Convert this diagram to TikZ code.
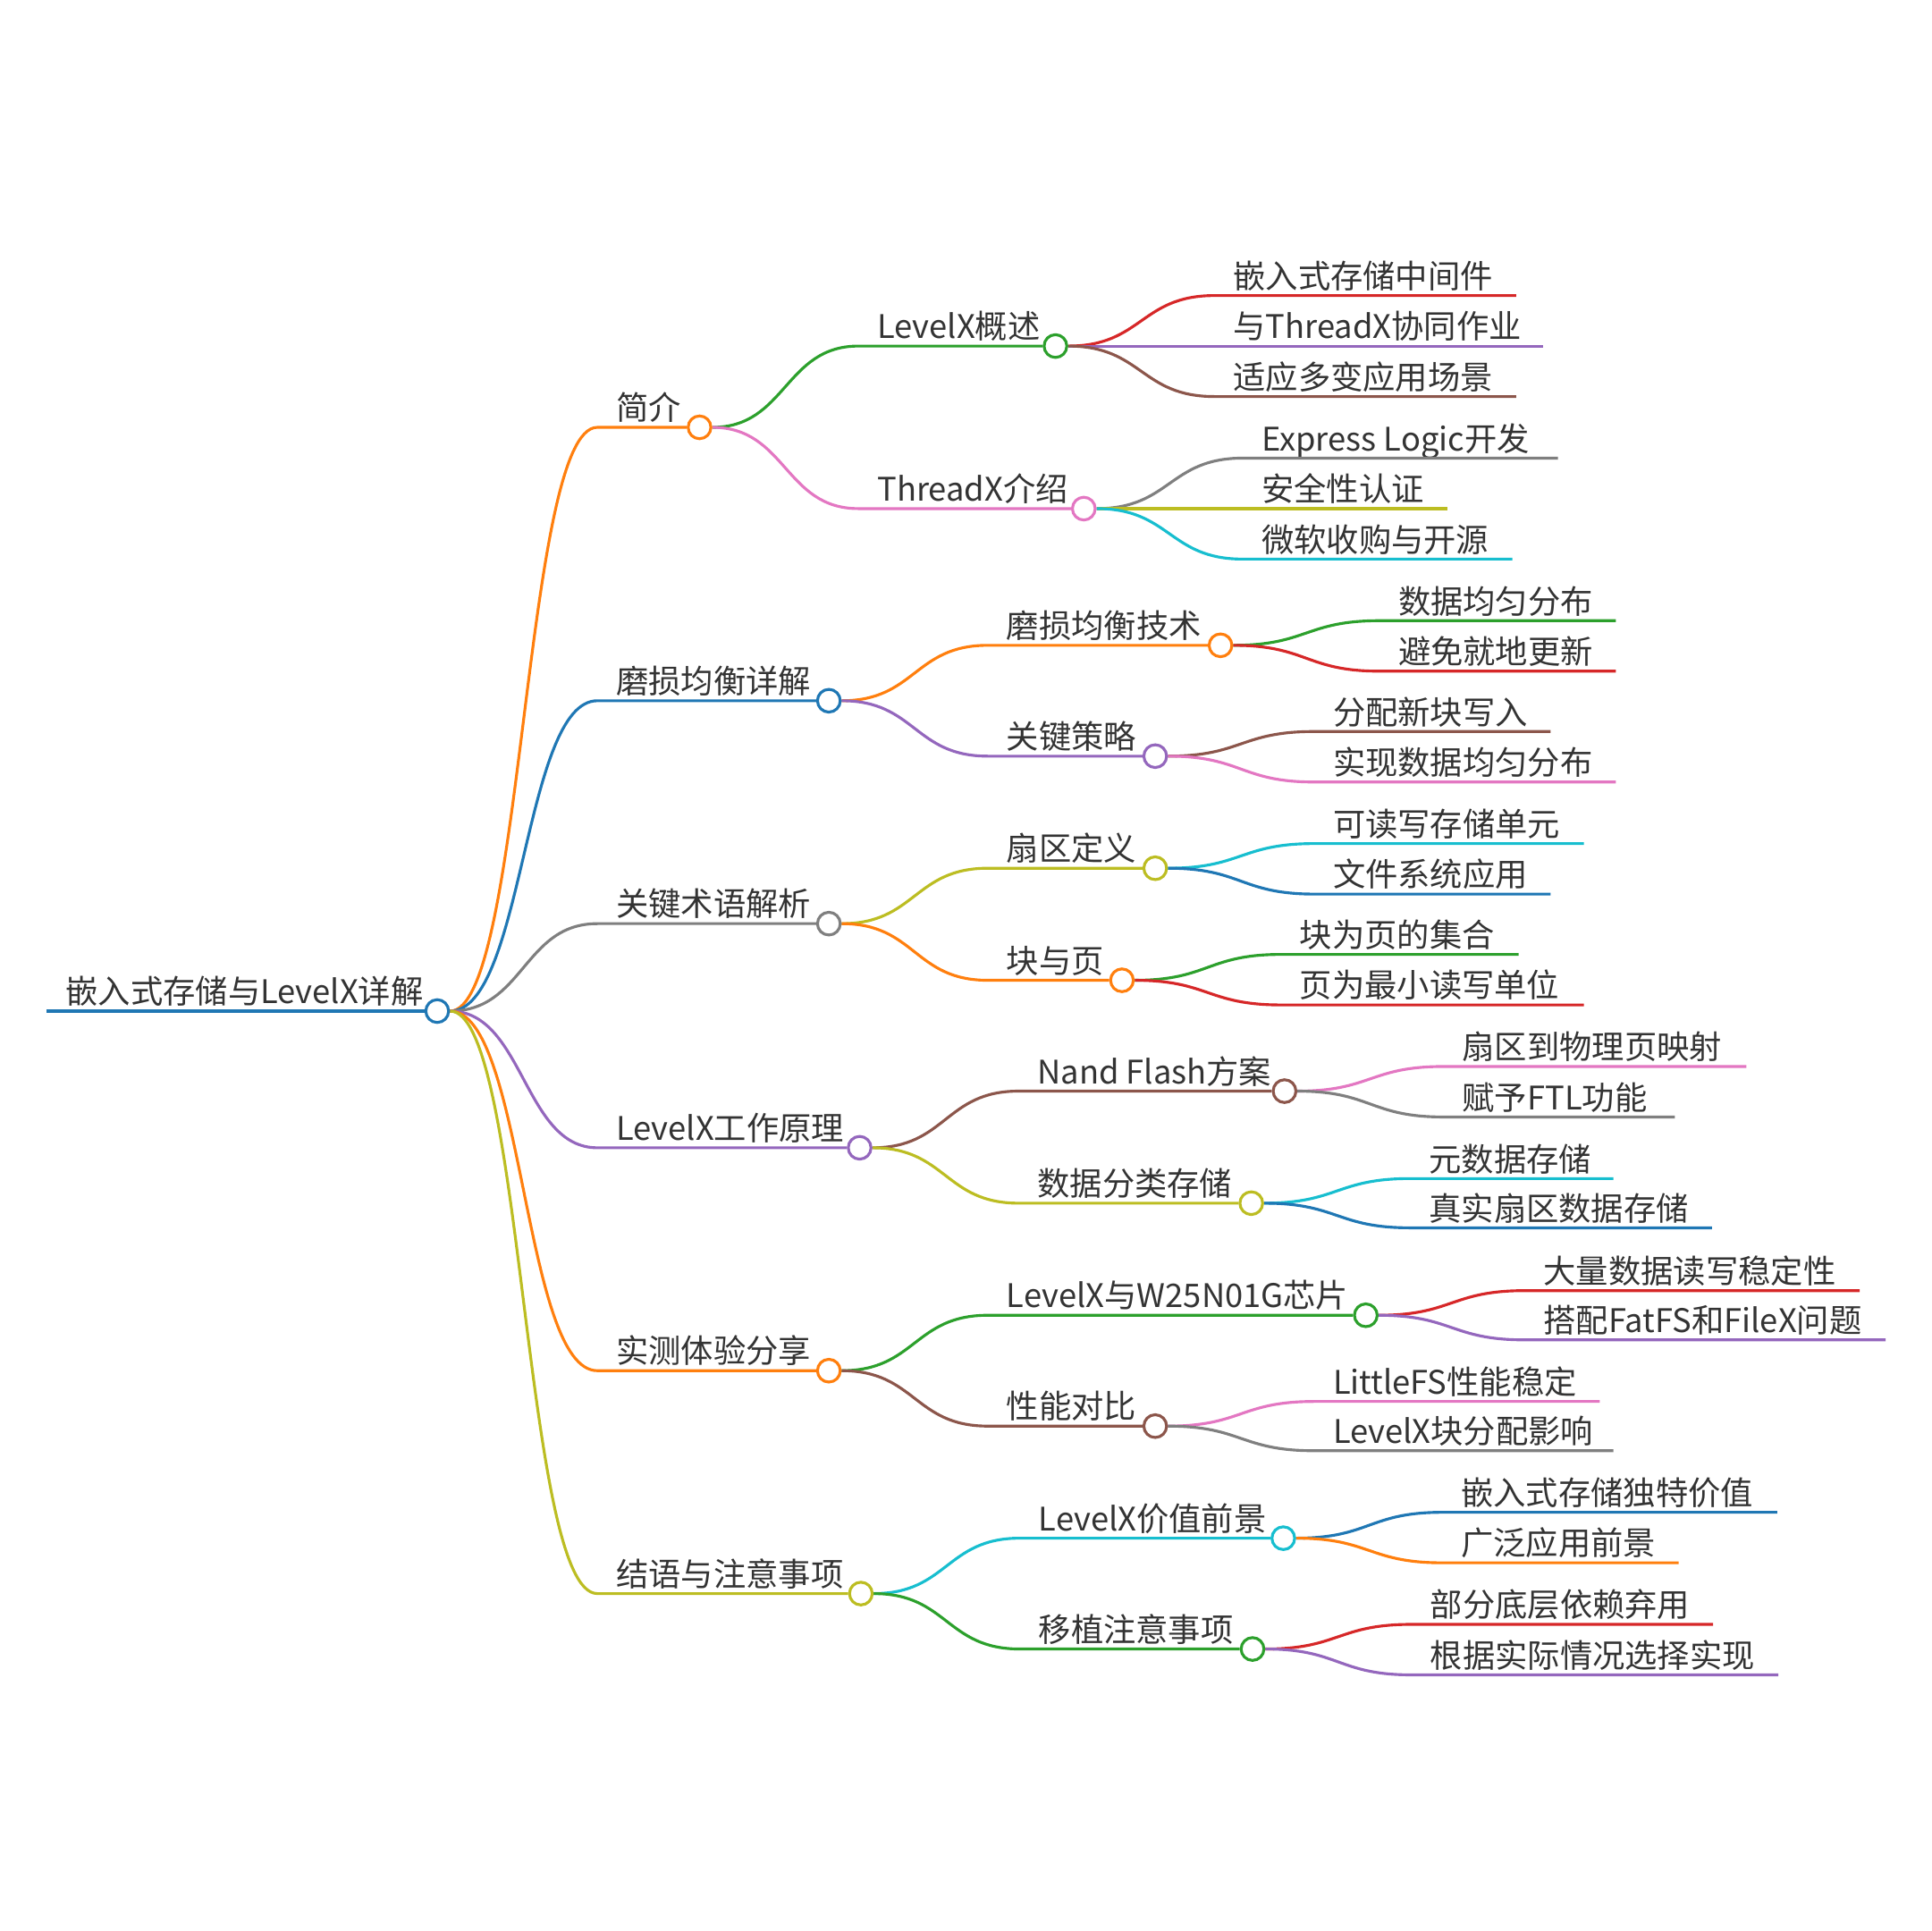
\documentclass[tikz,border=0pt]{standalone}
\usepackage{fontspec}
\setmainfont{Noto Sans CJK SC}
\usetikzlibrary{calc}
\definecolor{mmBlue}{HTML}{1F77B4}
\definecolor{mmOrange}{HTML}{FF7F0E}
\definecolor{mmGreen}{HTML}{2CA02C}
\definecolor{mmRed}{HTML}{D62728}
\definecolor{mmPurple}{HTML}{9467BD}
\definecolor{mmBrown}{HTML}{8C564B}
\definecolor{mmPink}{HTML}{E377C2}
\definecolor{mmGray}{HTML}{7F7F7F}
\definecolor{mmOlive}{HTML}{BCBD22}
\definecolor{mmCyan}{HTML}{17BECF}
\definecolor{mmText}{HTML}{333333}
\pgfdeclarelayer{front}
\pgfsetlayers{main,front}

\begin{document}
\begin{tikzpicture}[
  x=0.02cm,y=-0.02cm,
  font=\fontsize{15}{18}\selectfont,
  branch/.style={line width=1.3pt},
  knob/.style={circle, draw=#1, fill=white, line width=1.3pt,
               minimum size=3.7mm, inner sep=0pt},
  topic/.style={anchor=base west, inner sep=0pt, text=mmText},
]
  \path[use as bounding box] (0,0) rectangle (1568,1568);

  % Root: title on its own line, knob at the right end.
  \coordinate (sroot) at (38,821);
  \begin{pgfonlayer}{front}
    \node[knob=mmBlue] (root) at (355,821) {};
  \end{pgfonlayer}
  \node[topic] (troot) at ($(sroot)+(15,-6)$) {嵌入式存储与LevelX详解};
  \draw[branch,mmBlue] (sroot) -- (root);

  % Main topics hanging off the root.
  \foreach \n/\y/\e/\c/\t in {
      a/347/568/mmOrange/简介,
      b/569/673/mmBlue/磨损均衡详解,
      c/750/673/mmGray/关键术语解析,
      d/932/698/mmPurple/LevelX工作原理,
      e/1113/673/mmOrange/实测体验分享,
      f/1294/699/mmOlive/结语与注意事项} {
    \coordinate (s\n) at (485,\y);
    \begin{pgfonlayer}{front}
      \node[knob=\c] (\n) at (\e,\y) {};
    \end{pgfonlayer}
    \node[topic] (t\n) at ($(s\n)+(15,-6)$) {\t};
    \draw[branch,\c] (root.east) .. controls ($(root.east)+(60,0)$)
      and ($(s\n)+(-60,0)$) .. (s\n) -- (\n);
  }

  % Second level topics.
  \foreach \p/\n/\s/\y/\e/\c/\t in {
      a/a1/697/281/857/mmGreen/LevelX概述,
      a/a2/697/413/880/mmPink/ThreadX介绍,
      b/b1/802/524/991/mmOrange/磨损均衡技术,
      b/b2/802/614/938/mmPurple/关键策略,
      c/c1/802/705/938/mmOlive/扇区定义,
      c/c2/802/796/911/mmOrange/块与页,
      d/d1/827/886/1043/mmBrown/Nand Flash方案,
      d/d2/827/977/1016/mmOlive/数据分类存储,
      e/e1/802/1068/1109/mmGreen/LevelX与W25N01G芯片,
      e/e2/802/1158/938/mmBrown/性能对比,
      f/f1/828/1249/1042/mmCyan/LevelX价值前景,
      f/f2/828/1339/1017/mmGreen/移植注意事项} {
    \coordinate (s\n) at (\s,\y);
    \begin{pgfonlayer}{front}
      \node[knob=\c] (\n) at (\e,\y) {};
    \end{pgfonlayer}
    \node[topic] (t\n) at ($(s\n)+(15,-6)$) {\t};
    \draw[branch,\c] (\p.east) .. controls ($(\p.east)+(60,0)$)
      and ($(s\n)+(-60,0)$) .. (s\n) -- (\n);
  }

  % Leaves: plain underlined labels.
  \foreach \p/\n/\s/\y/\e/\c/\t in {
      a1/a11/986/240/1231/mmRed/嵌入式存储中间件,
      a1/a12/986/281/1253/mmPurple/与ThreadX协同作业,
      a1/a13/986/322/1231/mmBrown/适应多变应用场景,
      a2/a21/1009/372/1265/mmGray/Express Logic开发,
      a2/a22/1009/413/1175/mmOlive/安全性认证,
      a2/a23/1009/454/1228/mmCyan/微软收购与开源,
      b1/b11/1120/504/1312/mmGreen/数据均匀分布,
      b1/b12/1120/545/1312/mmRed/避免就地更新,
      b2/b21/1067/594/1259/mmBrown/分配新块写入,
      b2/b22/1067/635/1312/mmPink/实现数据均匀分布,
      c1/c11/1067/685/1286/mmCyan/可读写存储单元,
      c1/c12/1067/726/1259/mmBlue/文件系统应用,
      c2/c21/1040/775/1233/mmGreen/块为页的集合,
      c2/c22/1040/816/1286/mmRed/页为最小读写单位,
      d1/d11/1172/866/1418/mmPink/扇区到物理页映射,
      d1/d12/1172/907/1360/mmGray/赋予FTL功能,
      d2/d21/1145/957/1310/mmCyan/元数据存储,
      d2/d22/1145/997/1390/mmBlue/真实扇区数据存储,
      e1/e11/1238/1048/1510/mmRed/大量数据读写稳定性,
      e1/e12/1238/1088/1531/mmPurple/搭配FatFS和FileX问题,
      e2/e21/1067/1138/1299/mmPink/LittleFS性能稳定,
      e2/e22/1067/1178/1310/mmGray/LevelX块分配影响,
      f1/f11/1171/1228/1443/mmBlue/嵌入式存储独特价值,
      f1/f12/1171/1269/1363/mmOrange/广泛应用前景,
      f2/f21/1146/1319/1391/mmRed/部分底层依赖弃用,
      f2/f22/1146/1360/1444/mmPurple/根据实际情况选择实现} {
    \coordinate (s\n) at (\s,\y);
    \coordinate (e\n) at (\e,\y);
    \node[topic] (t\n) at ($(s\n)+(15,-6)$) {\t};
    \draw[branch,\c] (\p.east) .. controls ($(\p.east)+(60,0)$)
      and ($(s\n)+(-60,0)$) .. (s\n) -- (e\n);
  }
\end{tikzpicture}
\end{document}
